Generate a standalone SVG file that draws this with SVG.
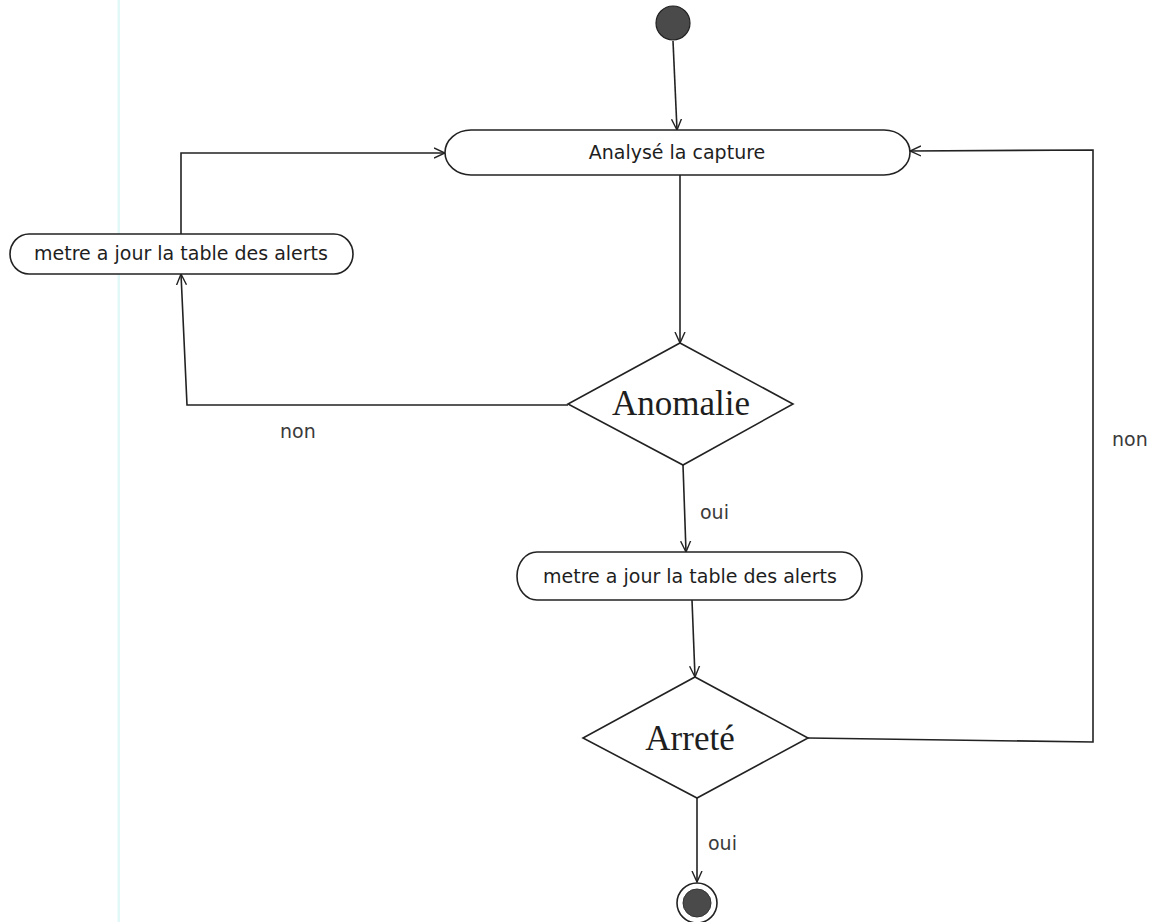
<svg xmlns="http://www.w3.org/2000/svg" width="1151" height="922" viewBox="0 0 1151 922">
  <style>
    .shape { fill: #ffffff; stroke: #222222; stroke-width: 1.6; }
    .flow { fill: none; stroke: #222222; stroke-width: 1.6; marker-end: url(#open); }
    .act { font-family: "DejaVu Sans", Verdana, sans-serif; font-size: 19px; fill: #1e1e1e; text-anchor: middle; }
    .guard { font-family: "DejaVu Sans", Verdana, sans-serif; font-size: 19px; fill: #3a3a3a; }
    .cond { font-family: "Liberation Serif", "Times New Roman", serif; font-size: 35px; fill: #1e1e1e; text-anchor: middle; }
  </style>
  <defs>
    <marker id="open" viewBox="0 0 12 12" refX="11" refY="6" markerWidth="12" markerHeight="12" markerUnits="userSpaceOnUse" orient="auto">
      <polyline points="0,1 11,6 0,11" fill="none" stroke="#222222" stroke-width="1.4"/>
    </marker>
  </defs>

  <rect width="1151" height="922" fill="#ffffff"/>
  <!-- page margin guide -->
  <rect x="117.5" y="0" width="2.5" height="922" fill="#e2f8f8"/>

  <g id="connectors">
    <line class="flow" x1="673" y1="41" x2="677" y2="130"/>
    <line class="flow" x1="680" y1="175" x2="680" y2="343"/>
    <polyline class="flow" points="568,405 187,405 181,274"/>
    <polyline class="flow" points="181,234 181,153 445,153"/>
    <line class="flow" x1="683" y1="465" x2="686" y2="552"/>
    <line class="flow" x1="692" y1="600" x2="695" y2="677"/>
    <polyline class="flow" points="808,738 1093,742 1093,150 910,151"/>
    <line class="flow" x1="697" y1="798" x2="697" y2="882"/>
  </g>

  <g id="start">
    <circle cx="673" cy="23" r="17" fill="#4a4a4a" stroke="#222222" stroke-width="1.2"/>
  </g>

  <g id="analyse">
    <rect class="shape" x="445" y="130" width="465" height="45" rx="26" ry="22.5"/>
    <text class="act" x="677" y="159">Analysé la capture</text>
  </g>

  <g id="maj-gauche">
    <rect class="shape" x="10" y="234" width="343" height="40" rx="19" ry="20"/>
    <text class="act" x="181" y="260">metre a jour la table des alerts</text>
  </g>

  <g id="anomalie">
    <polygon class="shape" points="680,343 793,404 683,465 568,404"/>
    <text class="cond" x="681" y="415">Anomalie</text>
  </g>

  <g id="maj-centre">
    <rect class="shape" x="517" y="552" width="345" height="48" rx="20" ry="24"/>
    <text class="act" x="690" y="583">metre a jour la table des alerts</text>
  </g>

  <g id="arrete">
    <polygon class="shape" points="695,677 808,738 697,798 583,738"/>
    <text class="cond" x="690" y="750">Arreté</text>
  </g>

  <g id="fin">
    <circle cx="697" cy="903" r="20" fill="#ffffff" stroke="#222222" stroke-width="1.6"/>
    <circle cx="697" cy="903" r="14" fill="#4a4a4a" stroke="#333333" stroke-width="1"/>
  </g>

  <g id="labels">
    <text class="guard" x="280" y="438">non</text>
    <text class="guard" x="700" y="519">oui</text>
    <text class="guard" x="1112" y="446">non</text>
    <text class="guard" x="708" y="850">oui</text>
  </g>
</svg>
